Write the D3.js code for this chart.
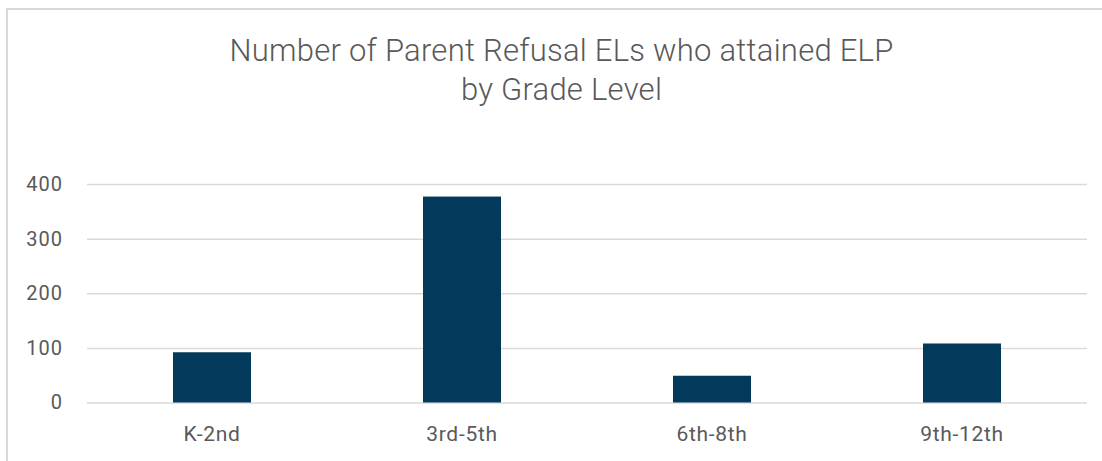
<!DOCTYPE html>
<html>
<head>
<meta charset="utf-8">
<script src="https://cdn.jsdelivr.net/npm/d3@7"></script>
<style>
  html, body { margin: 0; padding: 0; background: #fff; }
  svg { display: block; }
  text { font-family: Roboto, "Noto Sans", sans-serif; fill: #595959; }
</style>
</head>
<body>
<svg id="chart" width="1102" height="461"></svg>
<script>
// Grade bands and counts of parent-refusal ELs attaining ELP
const categories = ["K-2nd", "3rd-5th", "6th-8th", "9th-12th"];
const values = [92, 377, 49, 108];
const yTicks = [0, 100, 200, 300, 400];
const titleLines = ["Number of Parent Refusal ELs who attained ELP", "by Grade Level"];

const svg = d3.select("#chart");
const W = 1102, H = 461;
const margin = { left: 87, right: 15, top: 184, bottom: 58.5 };
const plotW = W - margin.left - margin.right;
const plotH = H - margin.top - margin.bottom;

// frame of the chart area (top and left edges visible)
svg.append("path")
  .attr("d", `M7,${H} V9 H${W}`)
  .attr("fill", "none")
  .attr("stroke", "#d9d9d9")
  .attr("stroke-width", 2);

const x = d3.scaleBand().domain(categories).range([0, plotW]).paddingInner(0.688).paddingOuter(0.344);
const y = d3.scaleLinear().domain([0, 400]).range([plotH, 0]);

const g = svg.append("g").attr("transform", `translate(${margin.left},${margin.top})`);

// horizontal gridlines
g.append("g")
  .call(d3.axisLeft(y).tickValues(yTicks).tickSize(-plotW).tickFormat(""))
  .call(s => s.select(".domain").remove())
  .call(s => s.selectAll("line").attr("stroke", "#d9d9d9").attr("stroke-width", 1.5));

// y tick labels
g.append("g")
  .call(d3.axisLeft(y).tickValues(yTicks).tickSize(0).tickPadding(24))
  .call(s => s.select(".domain").remove())
  .call(s => s.selectAll("text")
    .style("font-size", "20px")
    .style("letter-spacing", "1px")
    .style("font-family", "Roboto, sans-serif")
    .attr("fill", "#595959"));

// bars
g.selectAll("rect.bar")
  .data(values)
  .join("rect")
  .attr("class", "bar")
  .attr("x", (d, i) => x(categories[i]))
  .attr("width", x.bandwidth())
  .attr("y", d => y(d))
  .attr("height", d => y(0) - y(d))
  .attr("fill", "#03395a");

// category labels
g.append("g")
  .attr("transform", `translate(0,${plotH})`)
  .call(d3.axisBottom(x).tickSize(0).tickPadding(24))
  .call(s => s.select(".domain").remove())
  .call(s => s.selectAll("text")
    .style("font-size", "21px")
    .style("letter-spacing", "0.7px")
    .style("font-family", "Roboto, sans-serif")
    .attr("fill", "#595959"));

// title
svg.append("text")
  .attr("text-anchor", "middle")
  .style("font-size", "31px")
  .style("font-weight", 300)
  .style("letter-spacing", "0.25px")
  .selectAll("tspan")
  .data(titleLines)
  .join("tspan")
  .attr("x", 561.5)
  .attr("y", (d, i) => 61 + i * 39)
  .text(d => d);
</script>
</body>
</html>
